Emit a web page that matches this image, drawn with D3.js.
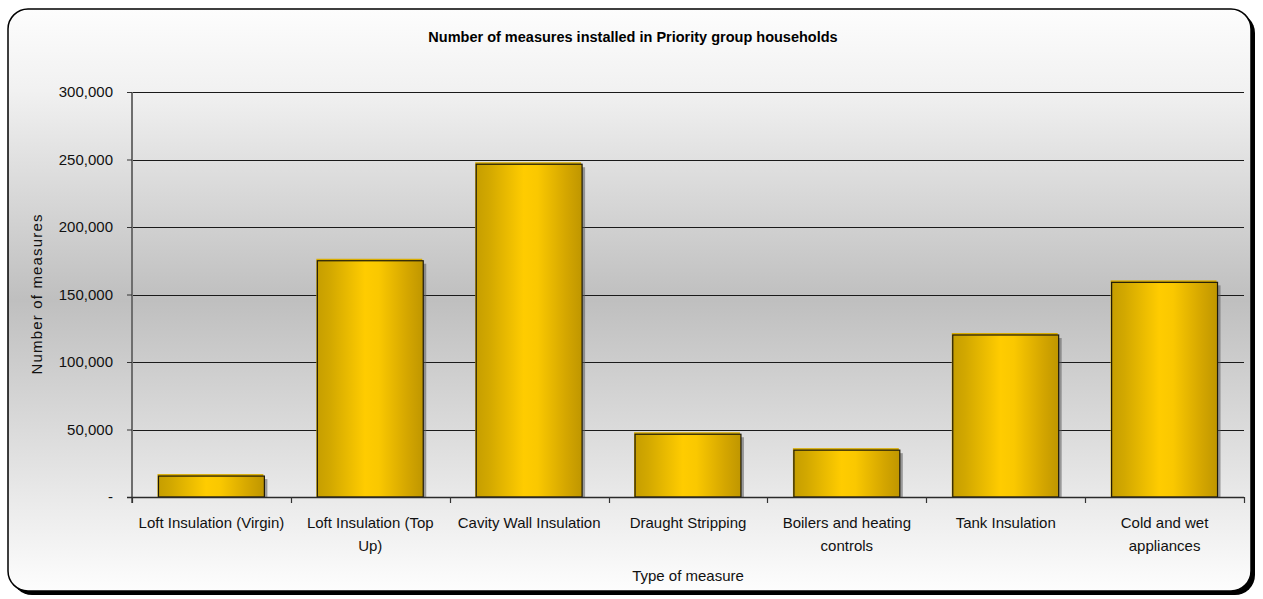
<!DOCTYPE html>
<html>
<head>
<meta charset="utf-8">
<script src="https://cdn.jsdelivr.net/npm/d3@7"></script>
<style>
  html, body { margin: 0; padding: 0; background: #ffffff; }
  svg { display: block; font-family: "Liberation Sans", Arial, sans-serif; }
</style>
</head>
<body>
<svg id="chart" width="1263" height="599"></svg>
<script>
// Measures installed in Priority group households
const categories = [
  "Loft Insulation (Virgin)",
  "Loft Insulation (Top\nUp)",
  "Cavity Wall Insulation",
  "Draught Stripping",
  "Boilers and heating\ncontrols",
  "Tank Insulation",
  "Cold and wet\nappliances"
];
const measures = [15500, 175000, 246500, 46500, 34700, 120000, 159000];
const yTicks = [0, 50000, 100000, 150000, 200000, 250000, 300000];

const titleText = "Number of measures installed in Priority group households";
const xTitle = "Type of measure";
const yTitle = "Number of measures";

const svg = d3.select("#chart");
const defs = svg.append("defs");

// Background: light at the edges, grey through the middle
const bg = defs.append("linearGradient").attr("id", "bgGrad")
  .attr("x1", 0).attr("y1", 0).attr("x2", 0).attr("y2", 1);
[[0, "#fdfdfd"], [0.14, "#f1f1f1"], [0.5, "#bfbfbf"], [0.86, "#ececec"], [1, "#fdfdfd"]]
  .forEach(([o, c]) => bg.append("stop").attr("offset", o).attr("stop-color", c));

// Gold cylinder-like shading across each bar
const barGrad = defs.append("linearGradient").attr("id", "barGrad")
  .attr("x1", 0).attr("y1", 0).attr("x2", 1).attr("y2", 0);
[[0, "#c69e00"], [0.12, "#d2a800"], [0.45, "#ffcc00"], [0.58, "#fac800"], [0.85, "#d4a600"], [1, "#bf9600"]]
  .forEach(([o, c]) => barGrad.append("stop").attr("offset", o).attr("stop-color", c));

// Frame with drop shadow
const frame = { x: 8, y: 9, w: 1243, h: 582, r: 20 };
svg.append("rect")
  .attr("x", frame.x + 4).attr("y", frame.y + 4)
  .attr("width", frame.w).attr("height", frame.h)
  .attr("rx", frame.r).attr("fill", "#000");
svg.append("rect")
  .attr("x", frame.x).attr("y", frame.y)
  .attr("width", frame.w).attr("height", frame.h)
  .attr("rx", frame.r)
  .attr("fill", "url(#bgGrad)")
  .attr("stroke", "#000").attr("stroke-width", 1.5);

const plot = { left: 132, right: 1244, top: 92, bottom: 497 };

const x = d3.scaleBand()
  .domain(categories)
  .range([plot.left, plot.right])
  .paddingInner(1 / 3).paddingOuter(1 / 6);
const xEdges = d3.scaleLinear()
  .domain([0, categories.length])
  .range([plot.left, plot.right]);
const y = d3.scaleLinear()
  .domain([0, 300000])
  .range([plot.bottom, plot.top]);

// Horizontal gridlines
svg.append("g")
  .selectAll("line")
  .data(yTicks.filter(d => d > 0))
  .join("line")
  .attr("x1", plot.left).attr("x2", plot.right)
  .attr("y1", d => Math.round(y(d)) + 0.5).attr("y2", d => Math.round(y(d)) + 0.5)
  .attr("stroke", "#1a1a1a").attr("stroke-width", 1.2);

// Bars: shadow, lifted gold rim, then shaded body
const bars = svg.append("g");
const barData = categories.map((c, i) => ({ c, v: measures[i] }));
bars.selectAll("rect.shadow")
  .data(barData).join("rect").attr("class", "shadow")
  .attr("x", d => x(d.c) + 3).attr("y", d => y(d.v) + 3)
  .attr("width", x.bandwidth()).attr("height", d => plot.bottom - y(d.v) - 3)
  .attr("fill", "#5a5a5a").attr("opacity", 0.55);
bars.selectAll("rect.rim")
  .data(barData).join("rect").attr("class", "rim")
  .attr("x", d => x(d.c) - 1).attr("y", d => y(d.v) - 2)
  .attr("width", x.bandwidth()).attr("height", d => plot.bottom - y(d.v) + 2)
  .attr("fill", "#d9ad00");
bars.selectAll("rect.body")
  .data(barData).join("rect").attr("class", "body")
  .attr("x", d => x(d.c)).attr("y", d => y(d.v))
  .attr("width", x.bandwidth()).attr("height", d => plot.bottom - y(d.v))
  .attr("fill", "url(#barGrad)")
  .attr("stroke", "#1e1a0a").attr("stroke-width", 1.2);

// Y axis
const yAxis = d3.axisLeft(y)
  .tickValues(yTicks)
  .tickSize(5)
  .tickPadding(14)
  .tickFormat(d => d === 0 ? "-" : d3.format(",")(d));
const gy = svg.append("g").attr("transform", `translate(${plot.left},0)`).call(yAxis);
gy.select(".domain").attr("stroke", "#6e6e6e").attr("stroke-width", 2)
  .attr("d", `M0,${plot.top}V${plot.bottom + 6}`);
gy.selectAll(".tick line").attr("stroke", "#333");
gy.selectAll(".tick text").attr("font-size", 15).attr("fill", "#111")
  .attr("font-family", "Liberation Sans, Arial, sans-serif");

// X axis line with ticks at category boundaries
svg.append("line")
  .attr("x1", plot.left - 5).attr("x2", plot.right)
  .attr("y1", plot.bottom + 0.5).attr("y2", plot.bottom + 0.5)
  .attr("stroke", "#2a2a2a").attr("stroke-width", 1.5);
svg.append("g").selectAll("line")
  .data(d3.range(categories.length + 1))
  .join("line")
  .attr("x1", i => Math.round(xEdges(i)) + 0.5).attr("x2", i => Math.round(xEdges(i)) + 0.5)
  .attr("y1", plot.bottom).attr("y2", plot.bottom + 6)
  .attr("stroke", "#333").attr("stroke-width", 1.2);

// Category labels (wrapped)
const labels = svg.append("g").attr("font-size", 15).attr("fill", "#111").attr("text-anchor", "middle");
labels.selectAll("text")
  .data(categories)
  .join("text")
  .attr("x", d => x(d) + x.bandwidth() / 2)
  .attr("y", 528)
  .each(function (d) {
    const t = d3.select(this);
    d.split("\n").forEach((line, k) => {
      t.append("tspan").attr("x", x(d) + x.bandwidth() / 2).attr("dy", k === 0 ? 0 : 23).text(line);
    });
  });

// Titles
svg.append("text")
  .attr("x", 633).attr("y", 42)
  .attr("text-anchor", "middle")
  .attr("font-size", 14.5).attr("font-weight", "bold").attr("fill", "#000")
  .text(titleText);
svg.append("text")
  .attr("x", (plot.left + plot.right) / 2).attr("y", 581)
  .attr("text-anchor", "middle")
  .attr("font-size", 15).attr("fill", "#111")
  .text(xTitle);
svg.append("text")
  .attr("transform", `translate(42,${(plot.top + plot.bottom) / 2}) rotate(-90)`)
  .attr("text-anchor", "middle")
  .attr("font-size", 15).attr("fill", "#111")
  .attr("textLength", 160).attr("lengthAdjust", "spacing")
  .text(yTitle);
</script>
</body>
</html>
